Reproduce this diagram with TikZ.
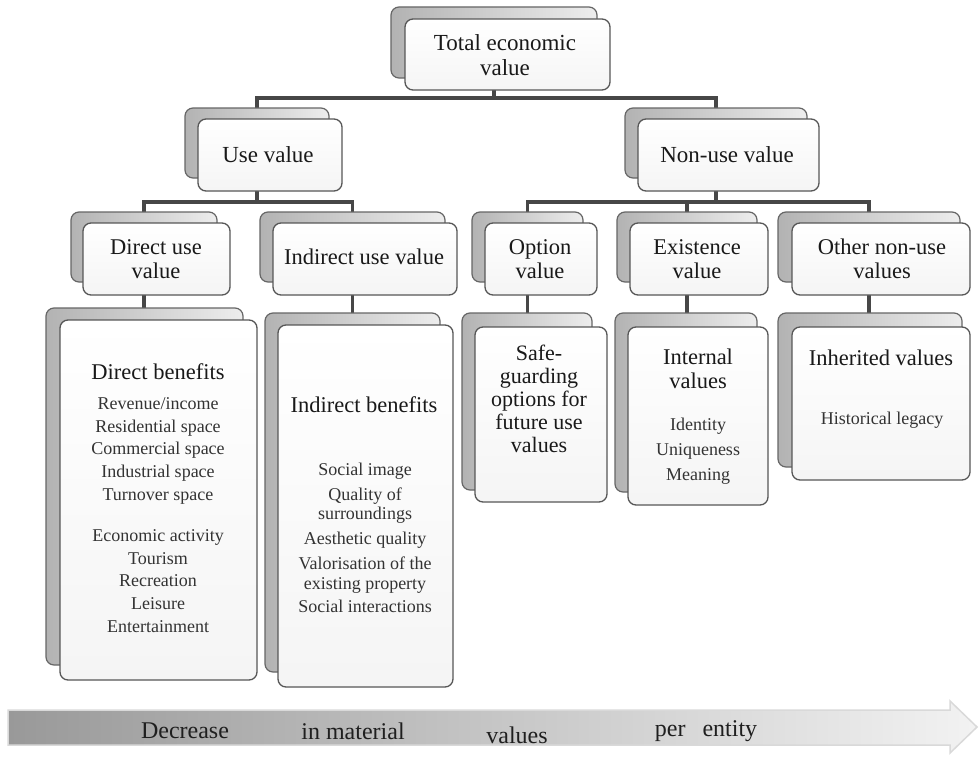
\documentclass[tikz,border=0pt]{standalone}
\usepackage{fontspec}
\setmainfont{Liberation Serif}
\pgfdeclarelayer{bg}
\pgfsetlayers{bg,main}
% a card with a shadow card behind it: name, back x1,y1,x2,y2, front x1,y1,x2,y2
\newcommand\twinbox[9]{%
  \pgfmathsetmacro\twbW{#4-#2}\pgfmathsetmacro\twbH{#5-#3}%
  \pgfmathsetmacro\twfW{#8-#6}\pgfmathsetmacro\twfH{#9-#7}%
  \node[backbox, minimum width=\twbW pt, minimum height=\twbH pt] (#1B) at ({(#2+#4)/2},{(#3+#5)/2}) {};
  \node[frontbox, minimum width=\twfW pt, minimum height=\twfH pt] (#1) at ({(#6+#8)/2},{(#7+#9)/2}) {};
}
\begin{document}
\begin{tikzpicture}[x=1pt,y=-1pt,
  backbox/.style={draw=black!60, line width=1.2pt, rounded corners=8pt,
    left color=black!30, right color=black!7, inner sep=0pt, outer sep=0pt},
  frontbox/.style={draw=black!66, line width=1.3pt, rounded corners=8pt,
    top color=white, bottom color=black!4, inner sep=0pt, outer sep=0pt},
  conn/.style={draw=black!72, line width=3.5pt},
  head/.style={font=\fontsize{23}{24.5}\selectfont, align=center, text=black!90, inner sep=0pt},
  sub/.style={font=\fontsize{22.5}{24}\selectfont, align=center, text=black!90, inner sep=0pt},
  item/.style={font=\fontsize{18}{22.6}\selectfont, align=center, text=black!80, inner sep=0pt},
  arrowtxt/.style={font=\fontsize{24}{24}\selectfont, text=black!88, inner sep=0pt},
]
\useasboundingbox (0,0) rectangle (979,760);

% cards, top level down
\twinbox{tev}{391}{7}{597}{78}{405}{19}{610}{90}
\twinbox{use}{185}{108}{329}{178}{198}{119}{342}{191}
\twinbox{nonuse}{625}{108}{807}{178}{638}{119}{819}{191}
\twinbox{direct}{71}{212}{217}{282}{83}{223}{230}{295}
\twinbox{indirect}{260}{212}{445}{282}{273}{223}{457}{295}
\twinbox{option}{472}{212}{583}{282}{485}{223}{597}{295}
\twinbox{exist}{617}{212}{757}{282}{630}{223}{768}{295}
\twinbox{other}{778}{212}{960}{282}{792}{223}{970}{295}
\twinbox{dben}{46}{308}{243}{665}{60}{320}{257}{680}
\twinbox{iben}{265}{313}{440}{672}{278}{325}{453}{687}
\twinbox{safe}{462}{313}{592}{490}{475}{327}{607}{502}
\twinbox{intern}{615}{313}{757}{492}{628}{327}{768}{505}
\twinbox{inher}{778}{313}{962}{467}{792}{327}{970}{480}

% labels
\node[head] (tevT) at (505,55) {Total economic\\value};
\node[head] (useT) at (268,155) {Use value};
\node[head] (nonuseT) at (727,155) {Non-use value};
\node[sub] (directT) at (156,259) {Direct use\\value};
\node[sub] (indirectT) at (364,257) {Indirect use value};
\node[sub] (optionT) at (540,259) {Option\\value};
\node[sub] (existT) at (697,259) {Existence\\value};
\node[sub] (otherT) at (882,259) {Other non-use\\values};

\node[sub] (dbenH) at (158,372) {Direct benefits};
\node[item] (dbenI) at (158,515) {Revenue/income\\Residential space\\Commercial space\\Industrial space\\Turnover space\\[19pt]Economic activity\\Tourism\\Recreation\\Leisure\\Entertainment};

\node[sub] (ibenH) at (364,405) {Indirect benefits};
\node[item, font=\fontsize{18}{19.5}\selectfont] (ibenI) at (365,538) {Social image\\[5.5pt]Quality of\\surroundings\\[5.5pt]Aesthetic quality\\[5.5pt]Valorisation of the\\existing property\\[4pt]Social interactions};

\node[sub, font=\fontsize{22}{23}\selectfont] (safeT) at (539,399) {Safe-\\guarding\\options for\\future use\\values};

\node[sub, font=\fontsize{22.5}{23.5}\selectfont] (internH) at (698,369) {Internal\\values};
\node[item, font=\fontsize{18}{25}\selectfont] (internI) at (698,451) {Identity\\Uniqueness\\Meaning};

\node[sub] (inherH) at (881,358) {Inherited values};
\node[item] (inherI) at (882,420) {Historical legacy};

% connectors and page background, kept behind the cards
\begin{pgfonlayer}{bg}
  \fill[white] (0,0) rectangle (979,760);
  \coordinate (bus0) at (0,98);
  \coordinate (bus1) at (0,202);
  \draw[conn] (tevB.south) -- (tevB.south |- bus0) -| (useB.north);
  \draw[conn] (tevB.south |- bus0) -| (nonuseB.north);
  \draw[conn] (useB.south) -- (useB.south |- bus1) -| (directB.north);
  \draw[conn] (useB.south |- bus1) -| (indirectB.north);
  \draw[conn] (nonuseB.south) -- (nonuseB.south |- bus1) -| (optionB.north);
  \draw[conn] (nonuseB.south |- bus1) -| (otherB.north);
  \draw[conn] (existB.north |- bus1) -- (existB.north);
  \draw[conn] (directB.south) -- (directB.south |- dbenB.north);
  \draw[conn] (indirectB.south) -- (indirectB.south |- ibenB.north);
  \draw[conn] (optionB.south) -- (optionB.south |- safeB.north);
  \draw[conn] (existB.south) -- (existB.south |- internB.north);
  \draw[conn] (otherB.south) -- (otherB.south |- inherB.north);
\end{pgfonlayer}

% bottom arrow
\draw[draw=black!15, line width=1.5pt, left color=black!40, right color=black!5]
  (8,710) -- (950,710) -- (950,701) -- (977,727) -- (950,753) -- (950,745) -- (8,745) -- cycle;
\node[arrowtxt] (a1) at (185,731) {Decrease};
\node[arrowtxt] (a2) at (353,731) {in material};
\node[arrowtxt] (a3) at (517,735) {values};
\node[arrowtxt] (a4) at (706,731) {per\hspace{17pt}entity};
\end{tikzpicture}
\end{document}
